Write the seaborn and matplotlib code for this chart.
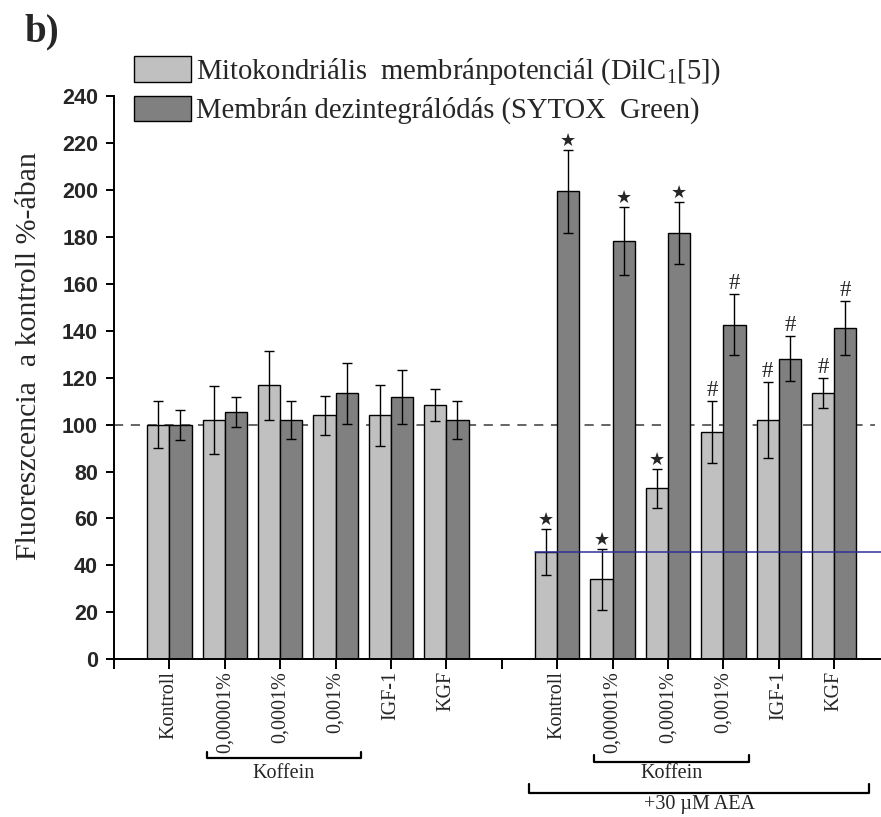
import numpy as np
import pandas as pd
import matplotlib
matplotlib.use("Agg")
import matplotlib.pyplot as plt
import matplotlib.transforms as mtransforms
import seaborn as sns

# ---- data -------------------------------------------------------------
conditions = ["Kontroll", "0,00001%", "0,0001%", "0,001%", "IGF-1", "KGF"]
treatments = ["", "+30 µM AEA"]          # untreated block, AEA block

series_names = [
    "Mitokondriális  membránpotenciál (DilC$_{\\mathrm{1}}$[5])",
    "Membrán dezintegrálódás (SYTOX  Green)",
]

# mean values (% of control), untreated block then AEA block
dilc_mean = [100, 102, 116.7, 103.9, 103.9, 108.4,
             45.8, 34.0, 72.8, 97.0, 102.0, 113.3]
dilc_err = [10.0, 14.6, 14.6, 8.2, 13.0, 6.7,
            9.7, 12.9, 8.2, 13.2, 16.2, 6.4]
sytox_mean = [100, 105.4, 102, 113.3, 111.9, 102,
              199.4, 178.3, 181.7, 142.6, 128.1, 141.0]
sytox_err = [6.4, 6.4, 8.2, 13.0, 11.5, 8.2,
             17.7, 14.4, 13.2, 12.9, 9.7, 11.5]

# significance marks
dilc_sig = ["", "", "", "", "", "", "*", "*", "*", "#", "#", "#"]
sytox_sig = ["", "", "", "", "", "", "*", "*", "*", "#", "#", "#"]

y_ticks = [0, 20, 40, 60, 80, 100, 120, 140, 160, 180, 200, 220, 240]

# ---- layout helpers ---------------------------------------------------
n_cond = len(conditions)
positions = []
for b in range(len(treatments)):
    for i in range(n_cond):
        positions.append(b * (n_cond + 1) + i + 1)

df = pd.DataFrame({
    "pos": positions * 2,
    "value": dilc_mean + sytox_mean,
    "series": [series_names[0]] * len(positions) + [series_names[1]] * len(positions),
})

sns.set_theme(style="ticks")
plt.rcParams["font.family"] = ["Liberation Serif", "DejaVu Serif"]
plt.rcParams["mathtext.fontset"] = "custom"
plt.rcParams["mathtext.rm"] = "Liberation Serif"
plt.rcParams["mathtext.it"] = "Liberation Serif:italic"

W, H = 881, 817
fig = plt.figure(figsize=(W / 100, H / 100), dpi=100)
ax_left, ax_bottom, ax_top = 114, 659.3, 96
ax = fig.add_axes([ax_left / W, (H - ax_bottom) / H, 1 - ax_left / W,
                   (ax_bottom - ax_top) / H])

palette = {series_names[0]: "#c0c0c0", series_names[1]: "#808080"}
sns.barplot(data=df, x="pos", y="value", hue="series",
            hue_order=series_names, palette=palette, native_scale=True,
            errorbar=None, width=0.8, edgecolor="black", linewidth=1.0,
            saturation=1, ax=ax)

half = 0.2
pos = np.array(positions, dtype=float)
for offs, mean, err, sig in [(-half, dilc_mean, dilc_err, dilc_sig),
                             (half, sytox_mean, sytox_err, sytox_sig)]:
    ax.errorbar(pos + offs, mean, yerr=err, fmt="none", ecolor="black",
                elinewidth=1.0, capsize=3.3, capthick=1.0, zorder=5)
    for x, m, e, s in zip(pos + offs, mean, err, sig):
        if s == "*":
            ax.annotate("★", (x, m + e), xytext=(0, 3.0), textcoords="offset points",
                        ha="center", va="baseline", fontsize=13,
                        family=["DejaVu Sans"])
        elif s == "#":
            ax.annotate("#", (x, m + e), xytext=(0, 3.6), textcoords="offset points",
                        ha="center", va="baseline", fontsize=16.5)

x_max = (W - ax_left) / 55.4
ax.set_xlim(0, x_max)
ax.set_ylim(0, 240)

# reference lines
ax.axhline(100, xmin=0, xmax=0.992, color="#3a3a3a", lw=1.1, ls=(0, (6, 5)), zorder=0.5)
ax.plot([positions[n_cond] - 0.4, x_max], [dilc_mean[n_cond]] * 2,
        color="#30309a", lw=1.1, zorder=6, clip_on=False)

# axes styling
for sp in ["top", "right"]:
    ax.spines[sp].set_visible(False)
for sp in ["left", "bottom"]:
    ax.spines[sp].set_linewidth(1.4)
    ax.spines[sp].set_color("black")

ax.set_yticks(y_ticks)
ax.set_yticklabels([str(t) for t in y_ticks], fontsize=15.5, fontweight="bold",
                   family=["Liberation Sans", "DejaVu Sans"])
ax.tick_params(axis="y", direction="out", length=6, width=1.4, pad=5.5, color="black")

xt = list(range(0, 2 * (n_cond + 1)))
xl = [""] * len(xt)
for p, c in zip(positions, conditions * 2):
    xl[p] = c
ax.set_xticks(xt)
ax.set_xticklabels(xl, rotation=90, fontsize=14.5, va="top", ha="center")
ax.tick_params(axis="x", direction="out", length=7, width=1.4, pad=1.5, color="black")
ax.set_xlabel("")

ax.set_ylabel("Fluoreszcencia  a kontroll %-ában", fontsize=21.5)
ax.yaxis.set_label_coords(-0.094, 0.5375)

# legend above the plot
handles, labels = ax.get_legend_handles_labels()
ax.get_legend().remove()
fig.legend(handles, labels, loc="upper left", bbox_to_anchor=(134 / W, 1 - 56 / H),
           frameon=False, fontsize=20.6, handlelength=2.0, handleheight=1.0,
           handletextpad=0.15, labelspacing=0.3, borderpad=0, borderaxespad=0)

# panel letter
fig.text(24 / W, 1 - 13 / H, "b)", fontsize=28, fontweight="bold", va="top", ha="left")

# group brackets below the tick labels
trans = mtransforms.blended_transform_factory(ax.transData, fig.transFigure)


def bracket(x0, x1, y_line, y_tip, label, y_text):
    ax.plot([x0, x0, x1, x1], [1 - y_tip / H, 1 - y_line / H, 1 - y_line / H, 1 - y_tip / H],
            transform=trans, color="black", lw=1.6, clip_on=False)
    ax.text((x0 + x1) / 2, 1 - y_text / H, label, transform=trans, ha="center",
            va="center", fontsize=14.5)


kof = "Koffein"
bracket(1.67, 4.45, 758, 752, kof, 773.5)
bracket(8.67, 11.47, 761.5, 755, kof, 774)
bracket(7.49, 13.63, 792.5, 783.5, treatments[1], 805)

fig.savefig("out.png", dpi=100)
